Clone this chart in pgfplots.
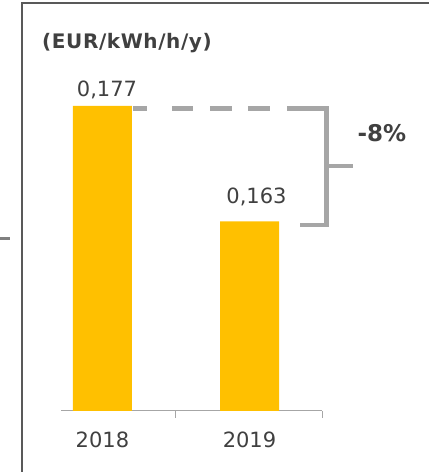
\documentclass[border=0pt]{standalone}
\usepackage{pgfplots}
\pgfplotsset{compat=1.18}
\usepackage{fontspec}
\setmainfont{DejaVu Sans}
\definecolor{barc}{HTML}{FFC000}
\definecolor{linec}{HTML}{A6A6A6}
\definecolor{txt}{HTML}{404040}
\definecolor{framec}{HTML}{595959}

\pgfplotstableread{
x   y      dx   dy
0   0.177  4.5  9
1   0.163  7    18
}\bardata

\begin{document}
\begin{tikzpicture}[x=1pt,y=1pt]
\useasboundingbox (0,0) rectangle (429,472);
% frame and stray tick
\draw[framec, line width=1.5pt] (22,0) -- (22,469) -- (429,469);
\draw[gray, line width=3pt] (0,233.5) -- (10,233.5);
\node[anchor=base west, inner sep=0, text=txt,
      font=\fontsize{20}{24}\selectfont\bfseries\addfontfeature{LetterSpace=3}]
  at (42,423) {(EUR/kWh/h/y)};

\begin{axis}[
    at={(61pt,61pt)}, anchor=south west,
    scale only axis, width=261pt, height=371pt,
    xmin=-0.282, xmax=1.493, ymin=0.14, ymax=0.185,
    axis x line*=bottom, axis y line=none,
    axis line style={draw=linec, line width=1pt},
    xtick={0,1}, xticklabels={2018,2019},
    major tick length=0pt,
    extra x ticks={0.5,1.493}, extra x tick labels={},
    extra x tick style={major tick length=7pt, tick style={draw=linec, line width=1pt}},
    tick align=outside,
    ytick=\empty,
    xticklabel style={yshift=-17pt, text=txt, font=\fontsize{21}{25}\selectfont},
    /pgf/number format/assume math mode=true,
    clip mode=individual,
]

\draw[linec, line width=4.5pt,
      dash pattern=on 14pt off 25pt on 21pt off 17pt on 22pt off 16pt on 22pt off 17pt on 20pt]
  (axis cs:0.2075,0.17669) -- (axis cs:1.391,0.17669);

\addplot[ybar, bar width=59pt, bar shift=0pt, fill=barc, draw=none,
    visualization depends on={\thisrow{dx} \as \dx},
    visualization depends on={\thisrow{dy} \as \dy},
    nodes near coords={\pgfmathprintnumber[fixed,fixed zerofill,precision=3,use comma]{\pgfplotspointmeta}},
    every node near coord/.append style={anchor=base, inner sep=0pt, xshift=\dx pt, yshift=\dy pt,
        text=txt, font=\fontsize{21}{25}\selectfont},
] table[x=x, y=y] {\bardata};

% bracket
\draw[linec, line width=4.5pt]
  (axis cs:1.391,0.17669) -- (axis cs:1.5224,0.17669) -- (axis cs:1.5224,0.16256) -- (axis cs:1.3435,0.16256);
\draw[linec, line width=4.5pt] (axis cs:1.5224,0.16972) -- (axis cs:1.702,0.16972);
\node[text=txt, font=\fontsize{23}{27}\selectfont\bfseries] at (axis cs:1.901,0.17372) {-8\%};

\end{axis}
\end{tikzpicture}
\end{document}
